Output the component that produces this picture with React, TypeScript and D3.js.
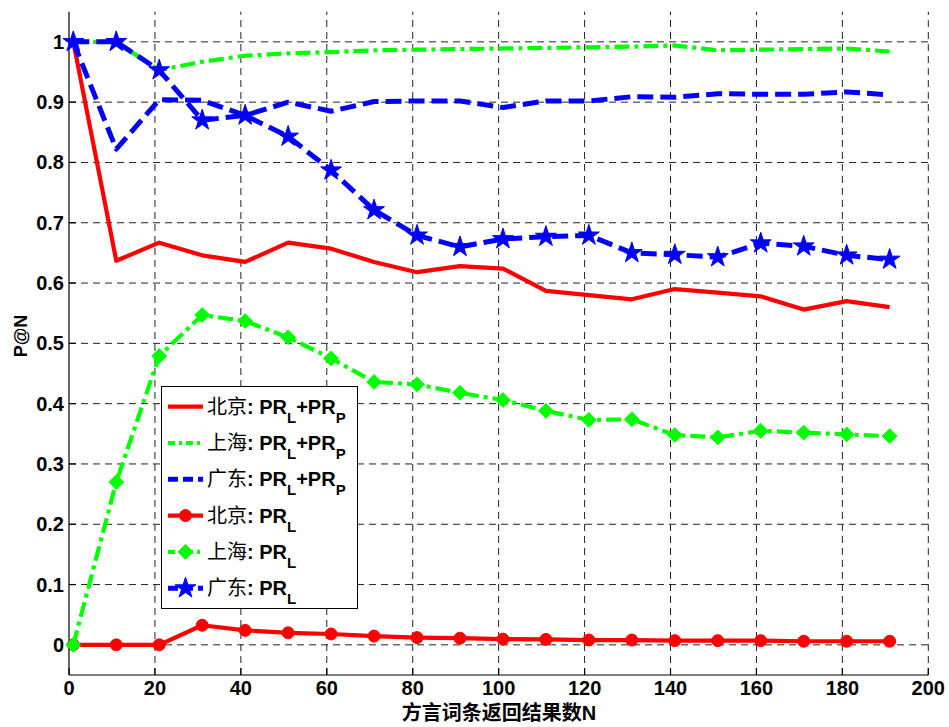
import React from "react";
import * as d3 from "d3";

const xVals = [1, 11, 21, 31, 41, 51, 61, 71, 81, 91, 101, 111, 121, 131, 141, 151, 161, 171, 181, 191];
const bjPRLP = [1.0, 0.637, 0.667, 0.646, 0.635, 0.667, 0.657, 0.635, 0.618, 0.628, 0.624, 0.587, 0.58, 0.573, 0.59, 0.584, 0.578, 0.556, 0.57, 0.56];
const shPRLP = [1.0, 1.0, 0.953, 0.967, 0.977, 0.981, 0.983, 0.986, 0.987, 0.988, 0.989, 0.99, 0.991, 0.992, 0.994, 0.986, 0.987, 0.988, 0.989, 0.984];
const gdPRLP = [1.0, 0.822, 0.904, 0.903, 0.878, 0.9, 0.885, 0.901, 0.902, 0.902, 0.891, 0.902, 0.902, 0.909, 0.908, 0.914, 0.913, 0.913, 0.917, 0.912];
const bjPRL = [0, 0, 0, 0.0325, 0.024, 0.02, 0.018, 0.0145, 0.012, 0.011, 0.0095, 0.009, 0.008, 0.008, 0.007, 0.007, 0.007, 0.006, 0.006, 0.006];
const shPRL = [0, 0.27, 0.479, 0.547, 0.537, 0.51, 0.475, 0.436, 0.432, 0.418, 0.406, 0.388, 0.373, 0.374, 0.348, 0.344, 0.355, 0.352, 0.349, 0.346];
const gdPRL = [1.0, 1.0, 0.953, 0.87, 0.878, 0.843, 0.787, 0.721, 0.679, 0.66, 0.673, 0.677, 0.679, 0.65, 0.647, 0.643, 0.666, 0.661, 0.646, 0.639];

const xTicks = [0, 20, 40, 60, 80, 100, 120, 140, 160, 180, 200];
const yTicks = [0, 0.1, 0.2, 0.3, 0.4, 0.5, 0.6, 0.7, 0.8, 0.9, 1];
const yTickLabels = ["0", "0.1", "0.2", "0.3", "0.4", "0.5", "0.6", "0.7", "0.8", "0.9", "1"];

const cities = ["北京", "上海", "广东"];
const RED = "#ff0000";
const GREEN = "#00ff00";
const BLUE = "#0000ff";

type Series = {
  city: string;
  combined: boolean;
  values: number[];
  color: string;
  dash: string | undefined;
  marker: "none" | "circle" | "diamond" | "star";
};

const series: Series[] = [
  { city: cities[0], combined: true, values: bjPRLP, color: RED, dash: undefined, marker: "none" },
  { city: cities[1], combined: true, values: shPRLP, color: GREEN, dash: "15,5,4,5", marker: "none" },
  { city: cities[2], combined: true, values: gdPRLP, color: BLUE, dash: "16,7", marker: "none" },
  { city: cities[0], combined: false, values: bjPRL, color: RED, dash: undefined, marker: "circle" },
  { city: cities[1], combined: false, values: shPRL, color: GREEN, dash: "15,5,4,5", marker: "diamond" },
  { city: cities[2], combined: false, values: gdPRL, color: BLUE, dash: "16,7", marker: "star" },
];

const LATIN = "'Liberation Sans', Arial, Helvetica, sans-serif";
const CJK = "'Noto Sans CJK SC', 'Noto Sans', sans-serif";

function Marker({ kind, cx, cy, color }: { kind: string; cx: number; cy: number; color: string }) {
  if (kind === "circle") return <circle cx={cx} cy={cy} r={6} fill={color} stroke={color} strokeWidth={1} />;
  if (kind === "diamond") {
    const p = d3.symbol().type(d3.symbolDiamond2).size(140)();
    return <path d={p || ""} transform={`translate(${cx},${cy})`} fill={color} stroke={color} strokeWidth={1} />;
  }
  if (kind === "star") {
    const p = d3.symbol().type(d3.symbolStar).size(135)();
    return <path d={p || ""} transform={`translate(${cx},${cy})`} fill={color} stroke={color} strokeWidth={1} />;
  }
  return null;
}

export default function App() {
  const W = 949;
  const H = 727;
  const x = d3.scaleLinear().domain([0, 200]).range([69, 928.3]);
  const y = d3.scaleLinear().domain([-0.05, 1.05]).range([675, 11.7]);
  const line = d3
    .line<number>()
    .x((_, i) => x(xVals[i]))
    .y((d) => y(d));

  const left = x(0);
  const right = x(200);
  const top = y(1.05);
  const bottom = y(-0.05);

  const legX = 161.5;
  const legY = 386.5;
  const legW = 196;
  const legH = 222;
  const rowY0 = 406.7;
  const rowStep = 36.3;

  return (
    <svg
      width={W}
      height={H}
      viewBox={`0 0 ${W} ${H}`}
      style={{ position: "absolute", left: 0, top: 0, background: "#fff" }}
    >
      <rect x={0} y={0} width={W} height={H} fill="#fff" />
      {/* grid */}
      <g stroke="#222" strokeWidth={1} strokeDasharray="7,5" fill="none">
        {xTicks
          .filter((t) => t !== 0)
          .map((t) => (
            <line key={"gx" + t} x1={x(t)} x2={x(t)} y1={bottom} y2={top} />
          ))}
        {yTicks.map((t) => (
          <line key={"gy" + t} x1={left} x2={right} y1={y(t)} y2={y(t)} />
        ))}
      </g>
      {/* axes */}
      <g stroke="#000" strokeWidth={1.2}>
        <line x1={left} x2={left} y1={top} y2={bottom} />
        <line x1={left} x2={right} y1={bottom} y2={bottom} />
        {xTicks.map((t) => (
          <line key={"tx" + t} x1={x(t)} x2={x(t)} y1={bottom} y2={bottom - 7} />
        ))}
        {yTicks.map((t) => (
          <line key={"ty" + t} x1={left} x2={left + 7} y1={y(t)} y2={y(t)} />
        ))}
      </g>
      {/* tick labels */}
      <g fontFamily={LATIN} fontWeight="bold" fontSize={20} fill="#000">
        {xTicks.map((t) => (
          <text key={"lx" + t} x={x(t)} y={695} textAnchor="middle">
            {t}
          </text>
        ))}
        {yTicks.map((t, i) => (
          <text key={"ly" + t} x={64} y={y(t) + 7} textAnchor="end">
            {yTickLabels[i]}
          </text>
        ))}
      </g>
      {/* axis titles */}
      <text
        x={499}
        y={720}
        textAnchor="middle"
        fontFamily={CJK}
        fontWeight="bold"
        fontSize={20}
        fill="#000"
      >
        方言词条返回结果数
        <tspan fontFamily={LATIN}>N</tspan>
      </text>
      <text
        transform={`translate(27,336) rotate(-90)`}
        textAnchor="middle"
        fontFamily={LATIN}
        fontWeight="bold"
        fontSize={18}
        fill="#000"
      >
        P@N
      </text>
      {/* series */}
      {series.map((s, si) => (
        <g key={"s" + si}>
          <path
            d={line(s.values) || ""}
            fill="none"
            stroke={s.color}
            strokeWidth={s.color === BLUE ? 5 : 4.2}
            strokeDasharray={s.dash}
            strokeLinejoin="round"
          />
          {s.marker !== "none" &&
            s.values.map((v, i) => (
              <Marker key={i} kind={s.marker} cx={x(xVals[i])} cy={y(v)} color={s.color} />
            ))}
        </g>
      ))}
      {/* legend */}
      <g>
        <rect x={legX} y={legY} width={legW} height={legH} fill="#fff" stroke="#000" strokeWidth={1} />
        {series.map((s, i) => {
          const ry = rowY0 + i * rowStep;
          return (
            <g key={"lg" + i}>
              <line
                x1={168}
                x2={203}
                y1={ry}
                y2={ry}
                stroke={s.color}
                strokeWidth={s.color === BLUE ? 5 : 4.2}
                strokeDasharray={s.dash === "16,7" ? "10,5" : s.dash === "15,5,4,5" ? "7,4,3,4" : undefined}
              />
              {s.marker !== "none" && <Marker kind={s.marker} cx={185.5} cy={ry} color={s.color} />}
              <text x={207} y={ry + 7} fontSize={20} fill="#000">
                <tspan fontFamily={CJK}>{s.city}</tspan>
                <tspan fontFamily={LATIN} fontWeight="bold">
                  : PR
                </tspan>
                <tspan fontFamily={LATIN} fontWeight="bold" fontSize={15} dy={9}>
                  L
                </tspan>
                {s.combined && (
                  <>
                    <tspan fontFamily={LATIN} fontWeight="bold" dy={-9}>
                      +PR
                    </tspan>
                    <tspan fontFamily={LATIN} fontWeight="bold" fontSize={15} dy={9}>
                      P
                    </tspan>
                  </>
                )}
              </text>
            </g>
          );
        })}
      </g>
    </svg>
  );
}
